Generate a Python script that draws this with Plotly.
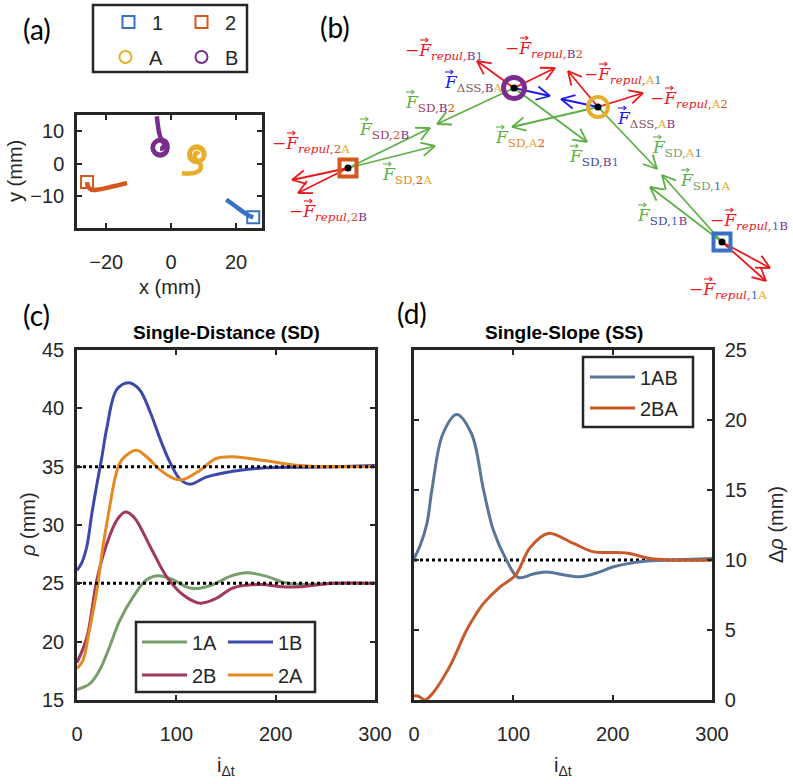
import math
import plotly.graph_objects as go

W, H = 793, 784

# ---------------- colours ----------------
C1, C2, CA, CB = '#3A70C6', '#D2581E', '#E6AE2A', '#7A2D8C'
C1A, C1B, C2B, C2A = '#789E6E', '#3D49AA', '#A03A5C', '#E38A24'
C1AB, C2BA = '#5B7599', '#C75A28'
GREEN, RED, BLUE, DSS = '#5CB046', '#E8191C', '#1A1AF0', '#82595B'
AX = '#262626'
ENT = {'1': C1, '2': C2, 'A': CA, 'B': CB}

# ---------------- panel (a): trajectories (mm) ----------------
traj1_x = [17.0, 19.5, 22.0, 24.0, 25.3]
traj1_y = [-11.0, -12.8, -14.6, -15.9, -16.4]
traj2_x = [-13.6, -16.5, -19.5, -22.5, -24.5, -25.6, -25.9]
traj2_y = [-5.9, -6.6, -7.3, -7.9, -8.0, -7.0, -5.6]
trajA_x = [3.3, 5.5, 7.5, 8.9, 9.1, 8.4, 7.0, 5.7, 5.8, 7.3, 9.0, 10.2, 10.0, 8.8, 7.6, 7.2, 7.9, 8.5]
trajA_y = [-2.9, -3.0, -2.7, -1.8, -0.4, 0.5, 0.7, 2.0, 3.9, 5.2, 5.0, 3.6, 1.8, 0.9, 1.4, 2.6, 3.4, 2.9]
trajB_x = [-4.4, -4.1, -3.7, -3.0, -1.6, -1.1, -1.8, -3.4, -5.0, -5.7, -5.0, -3.4, -2.2, -2.6, -3.4]
trajB_y = [14.6, 12.0, 9.6, 7.6, 6.8, 5.0, 3.2, 2.6, 3.3, 5.0, 6.6, 7.3, 6.2, 4.8, 4.6]
end_names = ['1', '2', 'A', 'B']
end_x = [25.3, -25.9, 7.9, -3.4]
end_y = [-16.4, -5.6, 2.8, 5.0]

# ---------------- panel (b): force diagram (diagram units) ----------------
node_names = ['2', 'B', 'A', '1']
node_x = [348, 514, 598, 722]
node_y = [168, 88, 107, 242]
arrow_from = ['2', '2', '2', '2', 'B', 'B', 'B', 'B', 'B', 'A', 'A', 'A', 'A', 'A', '1', '1', '1', '1']
arrow_tx = [292, 298, 430, 435, 477, 555, 550, 437, 587, 568, 643, 561, 512, 657, 770, 766, 662, 650]
arrow_ty = [180, 193, 128, 146, 61, 68, 96, 124, 142, 71, 93, 99, 127, 169, 268, 281, 175, 187]
arrow_kind = ['repul', 'repul', 'SD', 'SD', 'repul', 'repul', 'SS', 'SD', 'SD',
              'repul', 'repul', 'SS', 'SD', 'SD', 'repul', 'repul', 'SD', 'SD']
lab_kind = ['repul', 'repul', 'repul', 'repul', 'SS', 'SS', 'SD', 'SD', 'SD', 'repul', 'repul',
            'SD', 'SD', 'SD', 'SD', 'SD', 'repul', 'repul']
lab_ids = ['B1', 'B2', 'A1', 'A2', 'AB', 'BA', 'B2', '2B', '2A', '2A', '2B',
           'A2', 'B1', 'A1', '1A', '1B', '1B', '1A']
lab_pair = [None, None, None, None, DSS, DSS, C2B, C2B, C2A, None, None,
            C2A, C1B, C1A, C1A, C1B, None, None]
lab_left = [403, 503, 582, 648, 615, 442, 403, 357, 380, 270, 287, 493, 567, 650, 678, 635, 708, 687]
lab_y = [51, 49, 75, 99, 119, 83, 103, 130, 175, 144, 212, 138, 157, 148, 181, 216, 221, 290]

# ---------------- panel (c): single distance ----------------
c_1A_x = [0, 13, 23, 33, 43, 57, 70, 82, 97, 110, 120, 137, 154, 171, 191, 207, 224, 258, 300]
c_1A_y = [15.9, 16.4, 17.6, 19.6, 21.8, 23.9, 25.3, 25.65, 25.3, 24.7, 24.55, 24.9, 25.6, 25.9, 25.6, 25.1, 24.9, 25.0, 25.0]
c_1B_x = [0, 5, 10, 15, 20, 25, 30, 40, 52, 63, 74, 84, 94, 104, 114, 130, 157, 190, 230, 260, 300]
c_1B_y = [26.1, 26.8, 28.2, 31.0, 33.5, 35.8, 38.3, 41.6, 42.2, 41.6, 39.6, 37.3, 35.3, 33.9, 33.5, 34.1, 34.6, 34.9, 34.95, 35.0, 35.1]
c_2B_x = [0, 10, 20, 30, 40, 48, 57, 74, 90, 107, 124, 140, 157, 184, 207, 224, 258, 300]
c_2B_y = [18.2, 20.4, 25.3, 28.4, 30.4, 31.1, 30.7, 28.1, 25.6, 24.0, 23.3, 23.7, 24.6, 24.9, 24.7, 24.7, 25.0, 25.0]
c_2A_x = [0, 6, 12.5, 20, 26, 33, 38, 43, 50, 60, 70, 84, 97, 107, 124, 140, 157, 190, 224, 258, 300]
c_2A_y = [17.7, 18.4, 21.0, 24.4, 28.1, 31.6, 33.9, 35.3, 36.0, 36.4, 35.85, 34.7, 34.0, 33.9, 34.7, 35.7, 35.85, 35.5, 35.1, 35.0, 35.0]
c_targets = [25, 35]

# ---------------- panel (d): single slope ----------------
d_1AB_x = [0, 6, 13, 18, 29, 43, 58, 70, 80, 93, 105, 120, 134, 150, 167, 185, 200, 230, 260, 300]
d_1AB_y = [10.1, 11.0, 12.6, 15.0, 19.0, 20.4, 19.0, 15.0, 12.1, 10.0, 8.75, 9.0, 9.15, 8.95, 8.8, 9.1, 9.5, 9.9, 10.0, 10.1]
d_2BA_x = [0, 5, 11, 19, 36, 53, 63, 70, 87, 102, 117, 135, 160, 180, 214, 238, 260, 300]
d_2BA_y = [0.3, 0.25, 0.0, 0.5, 2.4, 5.0, 6.2, 6.9, 8.1, 8.9, 10.9, 11.9, 11.2, 10.6, 10.5, 10.1, 10.0, 10.0]
d_target = 10
x_range = [0, 300]


def pxx(x):
    return x / W


def pxy(y):
    return 1 - y / H


SANS = 'Liberation Sans'
SERIF = 'DejaVu Serif'
fig = go.Figure()

# ---- (a)
for xs, ys, c in [(traj1_x, traj1_y, C1), (traj2_x, traj2_y, C2),
                  (trajA_x, trajA_y, CA), (trajB_x, trajB_y, CB)]:
    fig.add_trace(go.Scatter(x=xs, y=ys, mode='lines', xaxis='x', yaxis='y',
                             line=dict(color=c, width=4.5, shape='spline'),
                             showlegend=False, hoverinfo='skip'))
sym = {'1': 'square-open', '2': 'square-open', 'A': 'circle-open', 'B': 'circle-open'}
for i, n in enumerate(end_names):
    fig.add_trace(go.Scatter(x=[end_x[i]], y=[end_y[i]], mode='markers', name=n,
                             xaxis='x', yaxis='y', legend='legend' if i == 0 else f'legend{i + 1}',
                             marker=dict(symbol=sym[n], size=12, color=ENT[n], line=dict(width=2, color=ENT[n]))))

# ---- (b)
def arrow_path(x0, y0, x1, y1, L=15, ang=27):
    a = math.atan2(y1 - y0, x1 - x0)
    xs = [x0, x1, None]
    ys = [y0, y1, None]
    for s in (1, -1):
        b = a + math.pi + s * math.radians(ang)
        xs += [x1, x1 + L * math.cos(b), None]
        ys += [y1, y1 + L * math.sin(b), None]
    return xs, ys

kind_col = {'repul': RED, 'SD': GREEN, 'SS': BLUE}
for kind in ['SD', 'repul', 'SS']:
    X, Y = [], []
    for f, tx, ty, k in zip(arrow_from, arrow_tx, arrow_ty, arrow_kind):
        if k != kind:
            continue
        j = node_names.index(f)
        xs, ys = arrow_path(node_x[j], node_y[j], tx, ty)
        X += xs
        Y += ys
    fig.add_trace(go.Scatter(x=X, y=Y, mode='lines', xaxis='x2', yaxis='y2',
                             line=dict(color=kind_col[kind], width=1.8),
                             showlegend=False, hoverinfo='skip'))
node_sym = {'1': 'square-open', '2': 'square-open', 'A': 'circle-open', 'B': 'circle-open'}
node_size = {'1': 17, '2': 17, 'A': 20, 'B': 21}
node_lw = {'1': 4, '2': 4, 'A': 4, 'B': 5}
for i, n in enumerate(node_names):
    fig.add_trace(go.Scatter(x=[node_x[i]], y=[node_y[i]], mode='markers', xaxis='x2', yaxis='y2',
                             marker=dict(symbol=node_sym[n], size=node_size[n], color=ENT[n],
                                         line=dict(width=node_lw[n], color=ENT[n])),
                             showlegend=False, hoverinfo='skip'))
fig.add_trace(go.Scatter(x=node_x, y=node_y, mode='markers', xaxis='x2', yaxis='y2',
                         marker=dict(size=7, color='black'), showlegend=False, hoverinfo='skip'))


def col(t, c):
    return f"<span style='color:{c}'>{t}</span>"


def ids(s):
    return ''.join(col(ch, ENT[ch]) for ch in s)


annotations = []
vec_marks = {RED: ([], []), GREEN: ([], []), BLUE: ([], [])}
for k, s, pc, lx, ly in zip(lab_kind, lab_ids, lab_pair, lab_left, lab_y):
    if k == 'repul':
        txt = f"−<i>F</i><sub><i>repul</i>,{ids(s)}</sub>"
        fc = RED
        off = 21
    elif k == 'SD':
        txt = f"<i>F</i><sub>{col('SD,', pc)}{ids(s)}</sub>"
        fc = GREEN
        off = 7
    else:
        txt = f"<i>F</i><sub>{col('ΔSS,', pc)}{ids(s)}</sub>"
        fc = BLUE
        off = 7
    annotations.append(dict(x=lx, y=ly, xref='x2', yref='y2', text=txt, showarrow=False,
                            xanchor='left', yanchor='middle',
                            font=dict(family=SERIF, size=17, color=fc)))
    # small vector arrow drawn over the F
    cx, cy = lx + off, ly - 11
    vx, vy = vec_marks[fc]
    vx += [cx - 4, cx + 4, None, cx + 1.5, cx + 4, cx + 1.5, None]
    vy += [cy, cy, None, cy - 2.2, cy, cy + 2.2, None]
for c, (vx, vy) in vec_marks.items():
    fig.add_trace(go.Scatter(x=vx, y=vy, mode='lines', xaxis='x2', yaxis='y2',
                             line=dict(color=c, width=1.1), showlegend=False, hoverinfo='skip'))

# ---- (c)
for xs, ys, c, n, lg in [(c_1A_x, c_1A_y, C1A, '1A', 'legend5'), (c_1B_x, c_1B_y, C1B, '1B', 'legend6'),
                         (c_2B_x, c_2B_y, C2B, '2B', 'legend7'), (c_2A_x, c_2A_y, C2A, '2A', 'legend8')]:
    fig.add_trace(go.Scatter(x=xs, y=ys, mode='lines', name=n, xaxis='x3', yaxis='y3', legend=lg,
                             line=dict(color=c, width=3, shape='spline')))
for t in c_targets:
    fig.add_trace(go.Scatter(x=x_range, y=[t, t], mode='lines', xaxis='x3', yaxis='y3',
                             line=dict(color='black', width=3, dash='dot'), showlegend=False, hoverinfo='skip'))

# ---- (d)
fig.add_trace(go.Scatter(x=x_range, y=[d_target, d_target], mode='lines', xaxis='x4', yaxis='y4',
                         line=dict(color='black', width=3, dash='dot'), showlegend=False, hoverinfo='skip'))
for xs, ys, c, n, lg in [(d_1AB_x, d_1AB_y, C1AB, '1AB', 'legend9'), (d_2BA_x, d_2BA_y, C2BA, '2BA', 'legend10')]:
    fig.add_trace(go.Scatter(x=xs, y=ys, mode='lines', name=n, xaxis='x4', yaxis='y4', legend=lg,
                             line=dict(color=c, width=3, shape='spline')))

# ---------------- axes ----------------
def axis(**kw):
    d = dict(showline=True, linewidth=2.5, linecolor=AX, mirror='ticks', ticks='inside',
             ticklen=5, tickwidth=2, tickcolor=AX, showgrid=False, zeroline=False, automargin=False,
             tickfont=dict(family=SANS, size=20, color=AX), ticklabelstandoff=6)
    d.update(kw)
    return d

layout_axes = dict(
    xaxis=axis(domain=[pxx(77), pxx(262)], range=[-29, 28], tickvals=[-20, 0, 20], anchor='y',
               ticklabelstandoff=14),
    yaxis=axis(domain=[pxy(228), pxy(115)], range=[-19.7, 15], tickvals=[-10, 0, 10], anchor='x'),
    xaxis2=dict(domain=[pxx(260), 1], range=[260, 793], visible=False, anchor='y2', automargin=False),
    yaxis2=dict(domain=[pxy(300), 1], range=[300, 0], visible=False, anchor='x2', automargin=False),
    xaxis3=axis(domain=[pxx(77), pxx(375)], range=x_range, tickvals=[0, 100, 200, 300], anchor='y3',
                ticklabelstandoff=14),
    yaxis3=axis(domain=[pxy(700), pxy(350)], range=[15, 45], tickvals=[15, 20, 25, 30, 35, 40, 45], anchor='x3'),
    xaxis4=axis(domain=[pxx(414), pxx(712)], range=x_range, tickvals=[0, 100, 200, 300], anchor='y4',
                ticklabelstandoff=14),
    yaxis4=axis(domain=[pxy(700), pxy(350)], range=[0, 25], tickvals=[0, 5, 10, 15, 20, 25], anchor='x4',
                side='right'),
)

# ---------------- text ----------------
def ann(x, y, text, size=20, family=SANS, angle=0, color=AX):
    annotations.append(dict(x=pxx(x), y=pxy(y), xref='paper', yref='paper', text=text, showarrow=False,
                            xanchor='center', yanchor='middle', textangle=angle,
                            font=dict(family=family, size=size, color=color)))

ann(37, 29, '(a)', 28, 'Lato', color='black')
ann(335, 27, '(b)', 28, 'Lato', color='black')
ann(36, 315, '(c)', 28, 'Lato', color='black')
ann(412, 313, '(d)', 28, 'Lato', color='black')
ann(226, 332, '<b>Single-Distance (SD)</b>', 19, color='black')
ann(564, 332, '<b>Single-Slope (SS)</b>', 19, color='black')
ann(170, 287, 'x (mm)')
ann(15, 171, 'y (mm)', angle=-90)
ann(226, 766, 'i<sub>Δt</sub>')
ann(563, 766, 'i<sub>Δt</sub>')
ann(28, 525, '<i>ρ</i> (mm)', angle=-90)
ann(776, 525, 'Δ<i>ρ</i> (mm)', angle=-90)

# ---------------- legends ----------------
def leg(x, y, iw=30):
    return dict(x=pxx(x), y=pxy(y), xanchor='left', yanchor='middle', bgcolor='rgba(0,0,0,0)',
                borderwidth=0, font=dict(family=SANS, size=20, color=AX), itemclick=False,
                itemdoubleclick=False, itemwidth=iw)

legends = dict(
    legend=leg(105, 22, 37), legend2=leg(178, 22, 37), legend3=leg(102, 57, 37), legend4=leg(178, 57, 37),
    legend5=leg(137, 642, 45), legend6=leg(223, 642, 45), legend7=leg(137, 675, 45), legend8=leg(223, 675, 45),
    legend9=leg(585, 377, 45), legend10=leg(585, 408, 45),
)

shapes = []
for (x0, y0, x1, y1) in [(93, 5, 247, 72), (136, 622, 315, 692), (583, 357, 693, 427)]:
    shapes.append(dict(type='rect', xref='paper', yref='paper', x0=pxx(x0), x1=pxx(x1),
                       y0=pxy(y1), y1=pxy(y0), line=dict(color=AX, width=2.5), fillcolor='white',
                       layer='below' if y0 < 100 else 'above'))

fig.update_layout(width=W, height=H, margin=dict(l=0, r=0, t=0, b=0),
                  paper_bgcolor='white', plot_bgcolor='rgba(0,0,0,0)',
                  annotations=annotations, shapes=shapes, **layout_axes, **legends)
fig.write_html('out.html', config={'displayModeBar': False},
               post_script="document.body.style.margin='0';")
